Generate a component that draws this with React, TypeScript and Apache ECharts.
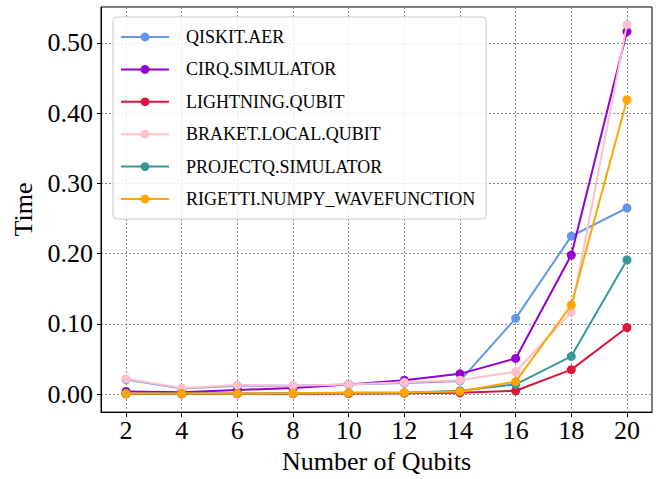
import React, { useEffect, useRef } from "react";
import * as echarts from "echarts";

const qubits = [2, 4, 6, 8, 10, 12, 14, 16, 18, 20];
const qiskitAer = [0.021, 0.008, 0.012, 0.012, 0.014, 0.016, 0.019, 0.108, 0.225, 0.265];
const cirqSimulator = [0.004, 0.003, 0.006, 0.009, 0.014, 0.02, 0.029, 0.051, 0.198, 0.516];
const lightningQubit = [0.0005, 0.0005, 0.0006, 0.0008, 0.001, 0.0015, 0.002, 0.005, 0.035, 0.095];
const braketLocalQubit = [0.022, 0.009, 0.013, 0.012, 0.014, 0.017, 0.02, 0.032, 0.117, 0.526];
const projectqSimulator = [0.001, 0.001, 0.001, 0.0015, 0.002, 0.002, 0.005, 0.014, 0.054, 0.191];
const rigettiWavefunction = [0.001, 0.001, 0.001, 0.0015, 0.002, 0.0025, 0.004, 0.018, 0.127, 0.419];

const seriesNames = [
  "QISKIT.AER",
  "CIRQ.SIMULATOR",
  "LIGHTNING.QUBIT",
  "BRAKET.LOCAL.QUBIT",
  "PROJECTQ.SIMULATOR",
  "RIGETTI.NUMPY_WAVEFUNCTION",
];
const seriesValues = [
  qiskitAer,
  cirqSimulator,
  lightningQubit,
  braketLocalQubit,
  projectqSimulator,
  rigettiWavefunction,
];
const seriesColors = ["#6495ED", "#9400D3", "#DC143C", "#FFC0CB", "#379799", "#FFA500"];

const xTicks = [2, 4, 6, 8, 10, 12, 14, 16, 18, 20];
const yTicks = [0, 0.1, 0.2, 0.3, 0.4, 0.5];

const FONT = "Liberation Serif";

export default function App() {
  const ref = useRef<HTMLDivElement>(null);
  useEffect(() => {
    if (!ref.current) return;
    const chart = echarts.init(ref.current, null, { renderer: "svg" });
    const gridLine = { show: true, lineStyle: { color: "#888", type: [2, 2] as any, width: 1 } };
    chart.setOption({
      animation: false,
      backgroundColor: "#fff",
      grid: {
        left: 101,
        right: 20,
        top: 7,
        bottom: 63,
        show: true,
        borderColor: "#000",
        borderWidth: 1,
        backgroundColor: "transparent",
      },
      legend: {
        orient: "vertical",
        left: 113,
        top: 17,
        itemWidth: 48,
        itemHeight: 11,
        itemGap: 14.4,
        padding: [11, 11, 11, 7],
        backgroundColor: "rgba(255,255,255,0.85)",
        borderColor: "#cccccc",
        borderWidth: 1,
        borderRadius: 4,
        textStyle: { fontFamily: FONT, fontSize: 18, lineHeight: 18, color: "#000", padding: [0, 0, 0, 12] },
        data: seriesNames,
      },
      xAxis: {
        type: "value",
        min: 1.1,
        max: 20.9,
        name: "Number of Qubits",
        nameLocation: "middle",
        nameGap: 33,
        nameTextStyle: { fontFamily: FONT, fontSize: 26, color: "#000" },
        axisLine: { show: true, onZero: false, lineStyle: { color: "#000", width: 1 } },
        axisTick: { show: true, length: 5, customValues: xTicks, lineStyle: { color: "#000" } },
        axisLabel: {
          customValues: xTicks,
          margin: 5,
          fontFamily: FONT,
          fontSize: 26,
          color: "#000",
          formatter: (v: number) => String(v),
        },
        splitLine: gridLine,
      },
      yAxis: {
        type: "value",
        min: -0.0254,
        max: 0.551,
        name: "Time",
        nameLocation: "middle",
        nameGap: 63,
        nameTextStyle: { fontFamily: FONT, fontSize: 26, color: "#000" },
        axisLine: { show: true, onZero: false, lineStyle: { color: "#000", width: 1 } },
        axisTick: { show: true, length: 4, customValues: yTicks, lineStyle: { color: "#000" } },
        axisLabel: {
          customValues: yTicks,
          margin: 8,
          fontFamily: FONT,
          fontSize: 26,
          color: "#000",
          formatter: (v: number) => v.toFixed(2),
        },
        splitLine: gridLine,
      },
      series: seriesNames.map((name, i) => ({
        name,
        type: "line",
        data: qubits.map((q, j) => [q, seriesValues[i][j]]),
        symbol: "circle",
        symbolSize: 9,
        color: seriesColors[i],
        lineStyle: { width: 2, color: seriesColors[i] },
        itemStyle: { color: seriesColors[i] },
        emphasis: { disabled: true },
        z: 2 + i,
      })),
    });
    return () => chart.dispose();
  }, []);
  return (
    <div
      ref={ref}
      style={{ position: "absolute", left: 0, top: 0, width: 672, height: 479 }}
    />
  );
}
